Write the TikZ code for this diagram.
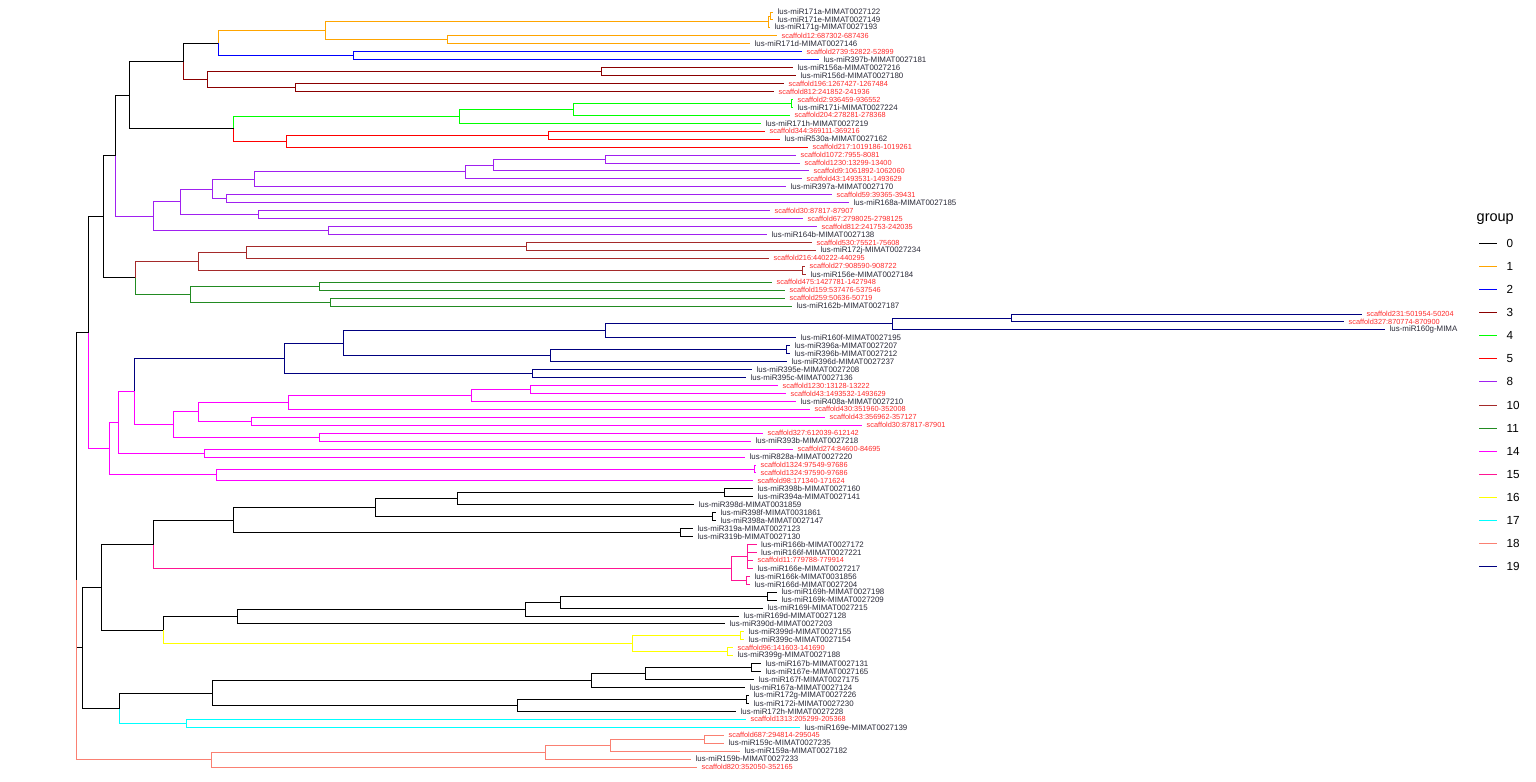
\documentclass[tikz,border=0pt]{standalone}
\usepackage{fontspec}
\setmainfont{Liberation Sans}
\definecolor{g0}{HTML}{000000}
\definecolor{g1}{HTML}{FFA500}
\definecolor{g2}{HTML}{0000FF}
\definecolor{g3}{HTML}{8B0000}
\definecolor{g4}{HTML}{00FF00}
\definecolor{g5}{HTML}{FF0000}
\definecolor{g8}{HTML}{A020F0}
\definecolor{g10}{HTML}{A52A2A}
\definecolor{g11}{HTML}{228B22}
\definecolor{g14}{HTML}{FF00FF}
\definecolor{g15}{HTML}{FF1493}
\definecolor{g16}{HTML}{FFFF00}
\definecolor{g17}{HTML}{00FFFF}
\definecolor{g18}{HTML}{FA8072}
\definecolor{g19}{HTML}{000080}
\definecolor{scred}{HTML}{FF2A2A}
\definecolor{lugray}{HTML}{2A2A38}
\tikzset{
  br/.style={line width=0.9pt},
  lu/.style={anchor=west,inner sep=0pt,text=lugray,font=\fontsize{7.9}{8}\selectfont},
  sc/.style={anchor=west,inner sep=0pt,text=scred,font=\fontsize{7.35}{8}\selectfont},
  legtitle/.style={anchor=west,inner sep=0pt,font=\fontsize{14.5}{16}\selectfont},
  leglab/.style={anchor=west,inner sep=0pt,font=\fontsize{11.7}{13}\selectfont},
  legline/.style={line width=1pt}
}
\newcommand\E[3]{\foreach \cc in {#3}{\draw[br,draw=#1] (#2) |- (\cc);}}
\newcommand\N[3]{\coordinate (#1) at (#2,#3);}
\newcommand\Lu[3]{\coordinate (t#1) at (#2,#1); \node[lu] (l#1) at (#2+4.5,#1) {#3};}
\newcommand\Sc[3]{\coordinate (t#1) at (#2,#1); \node[sc] (l#1) at (#2+4.5,#1) {#3};}
\begin{document}
\begin{tikzpicture}[x=1pt,y=-7.947pt]
\useasboundingbox (0,-0.51) rectangle (1536,97.77);
\begin{scope}
\clip (0,-0.51) rectangle (1457,97.77);
% leaves
\Lu{1}{773}{lus-miR171a-MIMAT0027122}
\Lu{2}{773}{lus-miR171e-MIMAT0027149}
\Lu{3}{770}{lus-miR171g-MIMAT0027193}
\Sc{4}{777}{scaffold12:687302-687436}
\Lu{5}{750}{lus-miR171d-MIMAT0027146}
\Sc{6}{802}{scaffold2739:52822-52899}
\Lu{7}{819}{lus-miR397b-MIMAT0027181}
\Lu{8}{793}{lus-miR156a-MIMAT0027216}
\Lu{9}{796}{lus-miR156d-MIMAT0027180}
\Sc{10}{784}{scaffold196:1267427-1267484}
\Sc{11}{774}{scaffold812:241852-241936}
\Sc{12}{793}{scaffold2:936459-936552}
\Lu{13}{793}{lus-miR171i-MIMAT0027224}
\Sc{14}{790}{scaffold204:278281-278368}
\Lu{15}{761}{lus-miR171h-MIMAT0027219}
\Sc{16}{765}{scaffold344:369111-369216}
\Lu{17}{780}{lus-miR530a-MIMAT0027162}
\Sc{18}{808}{scaffold217:1019186-1019261}
\Sc{19}{796}{scaffold1072:7955-8081}
\Sc{20}{800}{scaffold1230:13299-13400}
\Sc{21}{809}{scaffold9:1061892-1062060}
\Sc{22}{802}{scaffold43:1493531-1493629}
\Lu{23}{786}{lus-miR397a-MIMAT0027170}
\Sc{24}{832}{scaffold59:39365-39431}
\Lu{25}{849}{lus-miR168a-MIMAT0027185}
\Sc{26}{770}{scaffold30:87817-87907}
\Sc{27}{803}{scaffold67:2798025-2798125}
\Sc{28}{817}{scaffold812:241753-242035}
\Lu{29}{767}{lus-miR164b-MIMAT0027138}
\Sc{30}{812}{scaffold530:75521-75608}
\Lu{31}{816}{lus-miR172j-MIMAT0027234}
\Sc{32}{769}{scaffold216:440222-440295}
\Sc{33}{805}{scaffold27:908590-908722}
\Lu{34}{806}{lus-miR156e-MIMAT0027184}
\Sc{35}{772}{scaffold475:1427781-1427948}
\Sc{36}{785}{scaffold159:537476-537546}
\Sc{37}{785}{scaffold259:50636-50719}
\Lu{38}{792}{lus-miR162b-MIMAT0027187}
\Sc{39}{1362}{scaffold231:501954-50204}
\Sc{40}{1344}{scaffold327:870774-870900}
\Lu{41}{1385}{lus-miR160g-MIMA}
\Lu{42}{796}{lus-miR160f-MIMAT0027195}
\Lu{43}{790}{lus-miR396a-MIMAT0027207}
\Lu{44}{790}{lus-miR396b-MIMAT0027212}
\Lu{45}{787}{lus-miR396d-MIMAT0027237}
\Lu{46}{752}{lus-miR395e-MIMAT0027208}
\Lu{47}{746}{lus-miR395c-MIMAT0027136}
\Sc{48}{778}{scaffold1230:13128-13222}
\Sc{49}{786}{scaffold43:1493532-1493629}
\Lu{50}{796}{lus-miR408a-MIMAT0027210}
\Sc{51}{810}{scaffold430:351960-352008}
\Sc{52}{825}{scaffold43:356962-357127}
\Sc{53}{862}{scaffold30:87817-87901}
\Sc{54}{763}{scaffold327:612039-612142}
\Lu{55}{751}{lus-miR393b-MIMAT0027218}
\Sc{56}{793}{scaffold274:84600-84695}
\Lu{57}{745}{lus-miR828a-MIMAT0027220}
\Sc{58}{756}{scaffold1324:97549-97686}
\Sc{59}{756}{scaffold1324:97590-97686}
\Sc{60}{753}{scaffold98:171340-171624}
\Lu{61}{753}{lus-miR398b-MIMAT0027160}
\Lu{62}{753}{lus-miR394a-MIMAT0027141}
\Lu{63}{694}{lus-miR398d-MIMAT0031859}
\Lu{64}{716}{lus-miR398f-MIMAT0031861}
\Lu{65}{716}{lus-miR398a-MIMAT0027147}
\Lu{66}{693}{lus-miR319a-MIMAT0027123}
\Lu{67}{693}{lus-miR319b-MIMAT0027130}
\Lu{68}{756.5}{lus-miR166b-MIMAT0027172}
\Lu{69}{756.5}{lus-miR166f-MIMAT0027221}
\Sc{70}{753}{scaffold11:779788-779914}
\Lu{71}{753}{lus-miR166e-MIMAT0027217}
\Lu{72}{750}{lus-miR166k-MIMAT0031856}
\Lu{73}{750}{lus-miR166d-MIMAT0027204}
\Lu{74}{777}{lus-miR169h-MIMAT0027198}
\Lu{75}{777}{lus-miR169k-MIMAT0027209}
\Lu{76}{763}{lus-miR169l-MIMAT0027215}
\Lu{77}{739}{lus-miR169d-MIMAT0027128}
\Lu{78}{725}{lus-miR390d-MIMAT0027203}
\Lu{79}{744}{lus-miR399d-MIMAT0027155}
\Lu{80}{744}{lus-miR399c-MIMAT0027154}
\Sc{81}{733}{scaffold96:141603-141690}
\Lu{82}{733}{lus-miR399g-MIMAT0027188}
\Lu{83}{761}{lus-miR167b-MIMAT0027131}
\Lu{84}{761}{lus-miR167e-MIMAT0027165}
\Lu{85}{754}{lus-miR167f-MIMAT0027175}
\Lu{86}{745}{lus-miR167a-MIMAT0027124}
\Lu{87}{749}{lus-miR172g-MIMAT0027226}
\Lu{88}{749}{lus-miR172i-MIMAT0027230}
\Lu{89}{736}{lus-miR172h-MIMAT0027228}
\Sc{90}{746}{scaffold1313:205299-205368}
\Lu{91}{800}{lus-miR169e-MIMAT0027139}
\Sc{92}{724}{scaffold687:294814-295045}
\Lu{93}{724}{lus-miR159c-MIMAT0027235}
\Lu{94}{740}{lus-miR159a-MIMAT0027182}
\Lu{95}{691}{lus-miR159b-MIMAT0027233}
\Sc{96}{697}{scaffold820:352050-352165}
% internal nodes
\N{Q12}{770.5}{1.5} \N{P}{768.5}{2.25} \N{O2}{447}{4.5} \N{O1}{325.6}{3.375}
\N{B1}{353}{6.5} \N{Na}{218}{4.9375}
\N{D2}{601.5}{8.5} \N{D3}{295}{10.5} \N{D1}{207}{9.5} \N{Nb}{183.7}{7.21875}
\N{G3}{791}{12.5} \N{G2}{573}{13.25} \N{G1}{459}{14.125}
\N{R2}{548.6}{16.5} \N{R1}{286}{17.25} \N{Ne}{233.6}{15.6875}
\N{Nd}{129}{11.453125}
\N{P6}{605.6}{19.5} \N{P5}{493}{20.25} \N{P4}{465.4}{21.125} \N{P3}{254}{22.0625}
\N{P7}{226.5}{24.5} \N{P2}{212.4}{23.28125} \N{P8}{258.2}{26.5} \N{P1}{180.7}{24.890625}
\N{P9}{328.6}{28.5} \N{P0}{153.8}{26.6953125}
\N{Nf}{115.3}{19.07421875}
\N{Br4}{526.4}{30.5} \N{Br2}{246.5}{31.25} \N{Br3}{802.8}{33.5} \N{Br1}{198.4}{32.375}
\N{Gr2}{319.2}{35.5} \N{Gr3}{330.4}{37.5} \N{Gr1}{190.7}{36.5}
\N{Ni}{135.3}{34.4375}
\N{Ng}{103.3}{26.755859}
\N{Nv4b}{1011.5}{39.5} \N{Nv4}{892.7}{40.25} \N{Nv3}{605}{41.125}
\N{Nv5b}{786.4}{43.5} \N{Nv5}{550.5}{44.25} \N{Nv2}{343.3}{42.6875}
\N{Nv6}{532.9}{46.5} \N{Nv1}{284}{44.59375}
\N{M6b}{530}{48.5} \N{M6}{471.2}{49.25} \N{M5}{288.1}{50.125} \N{M7}{251.2}{52.5}
\N{M4}{198.4}{51.3125} \N{Ma}{319.2}{54.5} \N{M3}{173.3}{52.90625} \N{M2}{134.3}{48.75}
\N{Mb}{204.2}{56.5} \N{M1}{118.3}{52.625} \N{Mc}{754}{58.5} \N{Ml}{216}{59.25}
\N{M0}{109.3}{55.9375}
\N{Nh}{88.3}{41.34668}
\N{K5b}{724.5}{61.5} \N{K5}{457.7}{62.25} \N{K6}{712.5}{64.5} \N{K4}{375.6}{63.375}
\N{K7}{680.8}{66.5} \N{K3}{233.6}{64.9375}
\N{Pk1}{747.2}{69.5} \N{Pk2}{746.7}{72.5} \N{Pk}{731.7}{71}
\N{K2}{153.5}{67.96875}
\N{K10b}{767.6}{74.5} \N{K10}{560.4}{75.25} \N{K9}{525.2}{76.125} \N{K8}{237.7}{77.0625}
\N{Y2}{740.6}{79.5} \N{Y3}{727.7}{81.5} \N{Y1}{632.6}{80.5}
\N{Ky}{163.2}{78.78125}
\N{K1}{101.3}{73.375}
\N{K14}{751.2}{83.5} \N{K13}{645.5}{84.25} \N{K12}{591.5}{85.125}
\N{K16}{746.5}{87.5} \N{K15}{517.6}{88.25} \N{K11}{212.4}{86.6875}
\N{C1}{186.6}{90.5} \N{Kb}{119.5}{88.59375}
\N{K0}{82.3}{80.984375}
\N{S3}{704.2}{92.5} \N{S2}{610.3}{93.25} \N{S1}{545.8}{94.125} \N{S0}{211.3}{95.0625}
\N{Root}{76.3}{72.4645}
% edges
\E{g1}{Q12}{t1,t2} \E{g1}{P}{Q12,t3} \E{g1}{O2}{t4,t5} \E{g1}{O1}{P,O2}
\E{g2}{B1}{t6,t7}
\E{g1}{Na}{O1} \E{g2}{Na}{B1}
\E{g3}{D2}{t8,t9} \E{g3}{D3}{t10,t11} \E{g3}{D1}{D2,D3}
\E{g0}{Nb}{Na} \E{g3}{Nb}{D1}
\E{g4}{G3}{t12,t13} \E{g4}{G2}{G3,t14} \E{g4}{G1}{G2,t15}
\E{g5}{R2}{t16,t17} \E{g5}{R1}{R2,t18}
\E{g4}{Ne}{G1} \E{g5}{Ne}{R1}
\E{g0}{Nd}{Nb,Ne}
\E{g8}{P6}{t19,t20} \E{g8}{P5}{P6,t21} \E{g8}{P4}{P5,t22} \E{g8}{P3}{P4,t23}
\E{g8}{P7}{t24,t25} \E{g8}{P2}{P3,P7} \E{g8}{P8}{t26,t27} \E{g8}{P1}{P2,P8}
\E{g8}{P9}{t28,t29} \E{g8}{P0}{P1,P9}
\E{g0}{Nf}{Nd} \E{g8}{Nf}{P0}
\E{g10}{Br4}{t30,t31} \E{g10}{Br2}{Br4,t32} \E{g10}{Br3}{t33,t34} \E{g10}{Br1}{Br2,Br3}
\E{g11}{Gr2}{t35,t36} \E{g11}{Gr3}{t37,t38} \E{g11}{Gr1}{Gr2,Gr3}
\E{g10}{Ni}{Br1} \E{g11}{Ni}{Gr1}
\E{g0}{Ng}{Nf,Ni}
\E{g19}{Nv4b}{t39,t40} \E{g19}{Nv4}{Nv4b,t41} \E{g19}{Nv3}{Nv4,t42}
\E{g19}{Nv5b}{t43,t44} \E{g19}{Nv5}{Nv5b,t45} \E{g19}{Nv2}{Nv3,Nv5}
\E{g19}{Nv6}{t46,t47} \E{g19}{Nv1}{Nv2,Nv6}
\E{g14}{M6b}{t48,t49} \E{g14}{M6}{M6b,t50} \E{g14}{M5}{M6,t51} \E{g14}{M7}{t52,t53}
\E{g14}{M4}{M5,M7} \E{g14}{Ma}{t54,t55} \E{g14}{M3}{M4,Ma}
\E{g19}{M2}{Nv1} \E{g14}{M2}{M3}
\E{g14}{Mb}{t56,t57} \E{g14}{M1}{M2,Mb} \E{g14}{Mc}{t58,t59} \E{g14}{Ml}{Mc,t60}
\E{g14}{M0}{M1,Ml}
\E{g0}{Nh}{Ng} \E{g14}{Nh}{M0}
\E{g0}{K5b}{t61,t62} \E{g0}{K5}{K5b,t63} \E{g0}{K6}{t64,t65} \E{g0}{K4}{K5,K6}
\E{g0}{K7}{t66,t67} \E{g0}{K3}{K4,K7}
\E{g15}{Pk1}{t68,t69,t70,t71} \E{g15}{Pk2}{t72,t73} \E{g15}{Pk}{Pk1,Pk2}
\E{g0}{K2}{K3} \E{g15}{K2}{Pk}
\E{g0}{K10b}{t74,t75} \E{g0}{K10}{K10b,t76} \E{g0}{K9}{K10,t77} \E{g0}{K8}{K9,t78}
\E{g16}{Y2}{t79,t80} \E{g16}{Y3}{t81,t82} \E{g16}{Y1}{Y2,Y3}
\E{g0}{Ky}{K8} \E{g16}{Ky}{Y1}
\E{g0}{K1}{K2,Ky}
\E{g0}{K14}{t83,t84} \E{g0}{K13}{K14,t85} \E{g0}{K12}{K13,t86}
\E{g0}{K16}{t87,t88} \E{g0}{K15}{K16,t89} \E{g0}{K11}{K12,K15}
\E{g17}{C1}{t90,t91}
\E{g0}{Kb}{K11} \E{g17}{Kb}{C1}
\E{g0}{K0}{K1,Kb}
\E{g18}{S3}{t92,t93} \E{g18}{S2}{S3,t94} \E{g18}{S1}{S2,t95} \E{g18}{S0}{S1,t96}
\E{g0}{Root}{Nh,K0} \E{g18}{Root}{S0}
\end{scope}
% legend
\begin{scope}[y=-1pt]
\node[legtitle] (legt) at (1476.5,215) {group};
\foreach \k/\lab/\col in {0/0/g0,1/1/g1,2/2/g2,3/3/g3,4/4/g4,5/5/g5,6/8/g8,7/10/g10,8/11/g11,9/14/g14,10/15/g15,11/16/g16,12/17/g17,13/18/g18,14/19/g19}{
  \draw[legline,draw=\col] (1479,239.3+23.1*\k) -- (1497,239.3+23.1*\k);
  \node[leglab] (leg\k) at (1506.5,239.3+23.1*\k) {\lab};
}
\end{scope}
\end{tikzpicture}
\end{document}
